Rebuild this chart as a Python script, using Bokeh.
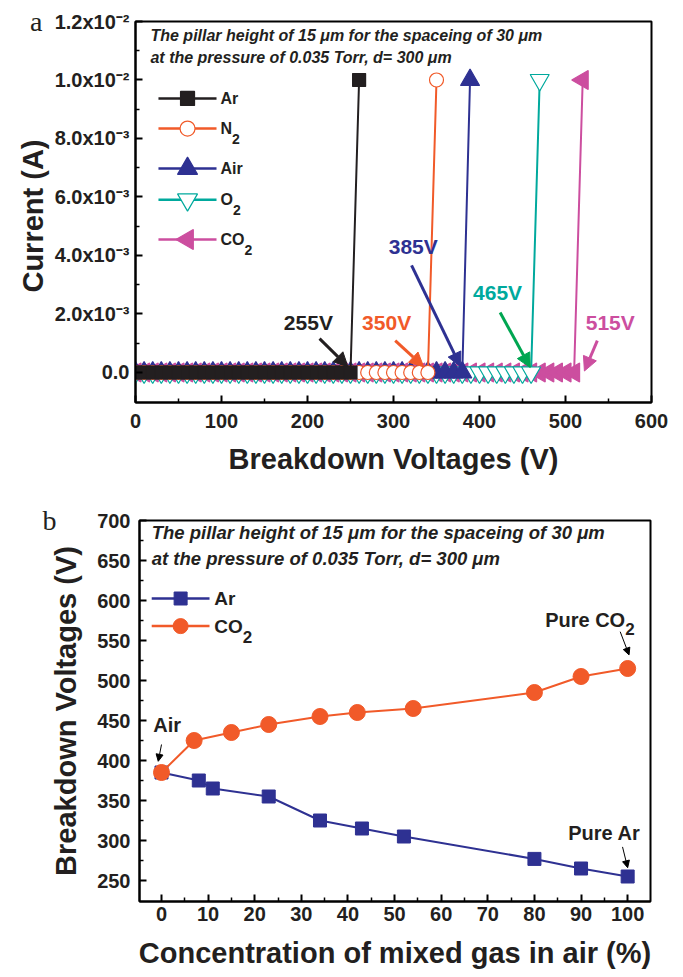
import math
from bokeh.plotting import figure
from bokeh.models import (FixedTicker, Label, Arrow, NormalHead, Range1d, LinearAxis)
from bokeh.embed import file_html
from bokeh.resources import INLINE

# ---------------- panel a data ----------------
sweep_voltage = [0, 10, 20, 30, 40, 50, 60, 70, 80, 90, 100, 110, 120, 130, 140, 150, 160,
                 170, 180, 190, 200, 210, 220, 230, 240, 250, 260, 270, 280, 290, 300, 310,
                 320, 330, 340, 350, 360, 370, 380, 390, 400, 410, 420, 430, 440, 450, 460,
                 470, 480, 490, 500, 510]
gases_a = ["Ar", "N₂", "Air", "O₂", "CO₂"]
last_zero_voltage = [250, 340, 380, 460, 510]
breakdown_point_voltage = [260, 350, 389, 470, 520]
breakdown_current_A = [0.01, 0.01, 0.01, 0.01, 0.01]
breakdown_labels = ["255V", "350V", "385V", "465V", "515V"]

x_ticks_a = [0, 100, 200, 300, 400, 500, 600]
x_minor_a = [50, 150, 250, 350, 450, 550]
y_ticks_a_mA = [0, 2, 4, 6, 8, 10, 12]
y_minor_a_mA = [1, 3, 5, 7, 9, 11]
y_tick_labels_a = ["0.0", "2.0x10⁻³", "4.0x10⁻³", "6.0x10⁻³", "8.0x10⁻³", "1.0x10⁻²", "1.2x10⁻²"]

# ---------------- panel b data ----------------
gases_b = ["Ar", "CO₂"]
conc_ar = [0, 8, 11, 23, 34, 43, 52, 80, 90, 100]
bv_ar = [385, 375, 365, 355, 325, 315, 305, 277, 265, 255]
conc_co2 = [0, 7, 15, 23, 34, 42, 54, 80, 90, 100]
bv_co2 = [385, 425, 435, 445, 455, 460, 465, 485, 505, 515]

x_ticks_b = [0, 10, 20, 30, 40, 50, 60, 70, 80, 90, 100]
x_minor_b = [5, 15, 25, 35, 45, 55, 65, 75, 85, 95]
y_ticks_b = [250, 300, 350, 400, 450, 500, 550, 600, 650, 700]
y_minor_b = [275, 325, 375, 425, 475, 525, 575, 625, 675]

SANS = "Liberation Sans"
SERIF = "Liberation Serif"
INK = "#231f20"
TITLE_1 = "The pillar height of 15 μm for the spaceing of 30 μm"
TITLE_2 = "at the pressure of 0.035 Torr, d= 300 μm"


def style_axes(p, tick_size, label_size):
    for ax in (p.xaxis[0], p.yaxis[0]):
        ax.axis_line_width = 2
        ax.axis_line_color = "black"
        ax.major_tick_in = 7
        ax.major_tick_out = 0
        ax.minor_tick_in = 4
        ax.minor_tick_out = 0
        ax.major_tick_line_width = 2
        ax.minor_tick_line_width = 1.5
        ax.major_tick_line_color = "black"
        ax.minor_tick_line_color = "black"
        ax.major_label_text_font = SANS
        ax.major_label_text_font_style = "bold"
        ax.major_label_text_font_size = tick_size
        ax.major_label_text_color = INK
        ax.axis_label_text_font = SANS
        ax.axis_label_text_font_style = "bold"
        ax.axis_label_text_font_size = label_size
        ax.axis_label_text_color = INK
    p.xgrid.visible = False
    p.ygrid.visible = False
    p.outline_line_color = "black"
    p.outline_line_width = 2
    p.outline_line_alpha = 1
    p.background_fill_color = "white"
    p.border_fill_color = "white"


def panel_letter(p, tick_value, letter, standoff):
    """Panel letter drawn as the only label of an invisible outer left axis."""
    ax = LinearAxis(ticker=FixedTicker(ticks=[tick_value], minor_ticks=[]),
                    major_label_overrides={tick_value: letter},
                    axis_line_alpha=0, major_tick_line_alpha=0, minor_tick_line_alpha=0,
                    major_tick_in=0, major_tick_out=0, minor_tick_in=0, minor_tick_out=0,
                    major_label_standoff=standoff, axis_label_standoff=0,
                    major_label_text_font=SERIF, major_label_text_font_size="28px",
                    major_label_text_font_style="normal", major_label_text_color=INK)
    p.add_layout(ax, "left")


def label(p, x, y, text, size, color=INK, align="left", style="bold", font=SANS):
    p.add_layout(Label(x=x, y=y, text=text, text_font=font, text_font_style=style,
                       text_font_size=size, text_align=align, text_baseline="middle",
                       text_color=color))


def sub_label(p, x, y, name, size, sub_size, em_px, px_per_x, sub_drop):
    """Write name (a trailing ₂ drawn as a lowered subscript 2) starting at x."""
    if name.endswith("₂"):
        base = name[:-1]
        label(p, x, y, base, size)
        w = sum(0.722 if ch in "CN" else 0.778 if ch == "O" else 0.667 if ch in "PV" else
                0.611 if ch in "u" else 0.389 if ch == "r" else 0.556 if ch == "e" else 0.278
                for ch in base) * em_px
        label(p, x + w / px_per_x, y - sub_drop, "2", sub_size)
    else:
        label(p, x, y, name, size)


# ================= panel a =================
p1 = figure(width=683, height=480, output_backend="svg", toolbar_location=None,
            x_range=Range1d(0, 600), y_range=Range1d(-1.026, 12.0),
            min_border_left=135, min_border_right=32, min_border_top=21, min_border_bottom=78)
p1.xaxis.ticker = FixedTicker(ticks=x_ticks_a, minor_ticks=x_minor_a)
p1.yaxis.ticker = FixedTicker(ticks=y_ticks_a_mA, minor_ticks=y_minor_a_mA)
p1.yaxis.major_label_overrides = {t: s for t, s in zip(y_ticks_a_mA, y_tick_labels_a)}
p1.xaxis.axis_label = "Breakdown Voltages (V)"
p1.yaxis.axis_label = "Current  (A)"
style_axes(p1, "20px", "29px")
p1.xaxis.major_label_standoff = 11
p1.yaxis.major_label_standoff = 6
p1.xaxis.axis_label_standoff = 12
p1.yaxis.axis_label_standoff = 3
panel_letter(p1, 12, "a", -29)

colors_a = ["#231f20", "#f15a29", "#2e3192", "#00a99d", "#cc4e9f"]
markers_a = ["square", "circle", "triangle", "inverted_triangle", "triangle"]
angles_a = [0, 0, 0, 0, math.pi / 2]
sizes_a = [13, 14, 19, 19, 19]
fills_a = ["#231f20", "white", "#2e3192", "white", "#cc4e9f"]

for i in reversed(range(len(gases_a))):
    xs = [v for v in sweep_voltage if v <= last_zero_voltage[i]] + [breakdown_point_voltage[i]]
    ys = [0.0 for v in sweep_voltage if v <= last_zero_voltage[i]] + [breakdown_current_A[i] * 1000]
    p1.line(xs, ys, line_color=colors_a[i], line_width=2)
    p1.scatter(xs, ys, marker=markers_a[i], size=sizes_a[i], angle=angles_a[i],
               line_color=colors_a[i], fill_color=fills_a[i], line_width=1.2)

# legend (drawn in the frame, like the original)
leg_y_a = [9.37, 8.34, 6.97, 5.91, 4.55]
for i in range(len(gases_a)):
    yy = leg_y_a[i]
    p1.line([26.7, 94.2], [yy, yy], line_color=colors_a[i], line_width=2.5)
    p1.scatter([60.5], [yy], marker=markers_a[i], size=sizes_a[i] + 1, angle=angles_a[i],
               line_color=colors_a[i], fill_color=fills_a[i], line_width=1.2)
    sub_label(p1, 98.8, yy, gases_a[i], "16px", "14px", 16, 0.86, 0.36)

label(p1, 17.4, 11.52, TITLE_1, "16px", style="bold italic")
label(p1, 17.4, 10.77, TITLE_2, "16px", style="bold italic")

# breakdown annotations
lab_pos = [(201, 1.71), (292, 1.71), (323, 4.3), (421, 2.74), (552, 1.71)]
arrow_pos = [((214, 1.16), (247, 0.2)), ((302, 1.09), (335, 0.2)), ((321, 3.66), (378, 0.2)),
             ((424, 2.05), (459, 0.17)), ((537, 1.09), (522, 0.05))]
lab_colors = ["#231f20", "#f15a29", "#2e3192", "#00a99d", "#cc4e9f"]
arrow_colors = ["#231f20", "#f15a29", "#2e3192", "#00a651", "#cc4e9f"]
for i in range(5):
    label(p1, lab_pos[i][0], lab_pos[i][1], breakdown_labels[i], "21px",
          color=lab_colors[i], align="center")
    (xs0, ys0), (xe0, ye0) = arrow_pos[i]
    c = arrow_colors[i]
    p1.add_layout(Arrow(end=NormalHead(size=14, fill_color=c, line_color=c),
                        x_start=xs0, y_start=ys0, x_end=xe0, y_end=ye0,
                        line_color=c, line_width=3))

# ================= panel b =================
p2 = figure(width=683, height=497, output_backend="svg", toolbar_location=None,
            x_range=Range1d(-4.72, 104.9), y_range=Range1d(223.75, 700),
            min_border_left=139, min_border_right=33, min_border_top=40, min_border_bottom=76)
p2.xaxis.ticker = FixedTicker(ticks=x_ticks_b, minor_ticks=x_minor_b)
p2.yaxis.ticker = FixedTicker(ticks=y_ticks_b, minor_ticks=y_minor_b)
p2.xaxis.axis_label = "Concentration of mixed gas in air (%)"
p2.yaxis.axis_label = "Breakdown Voltages (V)"
style_axes(p2, "20px", "29px")
p2.xaxis.major_label_standoff = 5
p2.yaxis.major_label_standoff = 9
p2.xaxis.axis_label_standoff = 13
p2.yaxis.axis_label_standoff = 12
panel_letter(p2, 700, "b", -9)

c_ar = "#2e3192"
c_co2 = "#f15a29"
p2.line(conc_ar, bv_ar, line_color=c_ar, line_width=2)
p2.scatter(conc_ar, bv_ar, marker="square", size=13, line_color=c_ar, fill_color=c_ar)
p2.line(conc_co2, bv_co2, line_color=c_co2, line_width=2)
p2.scatter(conc_co2, bv_co2, marker="circle", size=16, line_color=c_co2, fill_color=c_co2)

# legend
leg_y_b = [602.5, 568]
leg_col_b = [c_ar, c_co2]
leg_mk_b = ["square", "circle"]
leg_sz_b = [13, 15]
for i in range(2):
    yy = leg_y_b[i]
    p2.line([-2.1, 10.3], [yy, yy], line_color=leg_col_b[i], line_width=2.5)
    p2.scatter([4.1], [yy], marker=leg_mk_b[i], size=leg_sz_b[i], line_color=leg_col_b[i],
               fill_color=leg_col_b[i])
    sub_label(p2, 11.3, yy, gases_b[i], "19px", "17px", 19, 4.66, 13)

label(p2, -2.1, 685, TITLE_1, "18.5px", style="bold italic")
label(p2, -2.1, 652, TITLE_2, "18.5px", style="bold italic")

# annotations
label(p2, 1.2, 445, "Air", "20px", align="center")
sub_label(p2, 82.3, 576, "Pure CO₂", "20px", "17px", 20, 4.66, 11)
label(p2, 95.0, 309, "Pure Ar", "20px", align="center")
for (ax0, ay0), (ax1, ay1) in [((0.0, 420), (-0.7, 399)),
                               ((98.9, 292), (100.0, 266)),
                               ((98.4, 561), (100.3, 532))]:
    p2.add_layout(Arrow(end=NormalHead(size=7, fill_color="black", line_color="black"),
                        x_start=ax0, y_start=ay0, x_end=ax1, y_end=ay1,
                        line_color="black", line_width=1))

# two independent roots, stacked on the page (keeps each panel's own frame position)
open("out.html", "w").write(file_html([p1, p2], INLINE))
